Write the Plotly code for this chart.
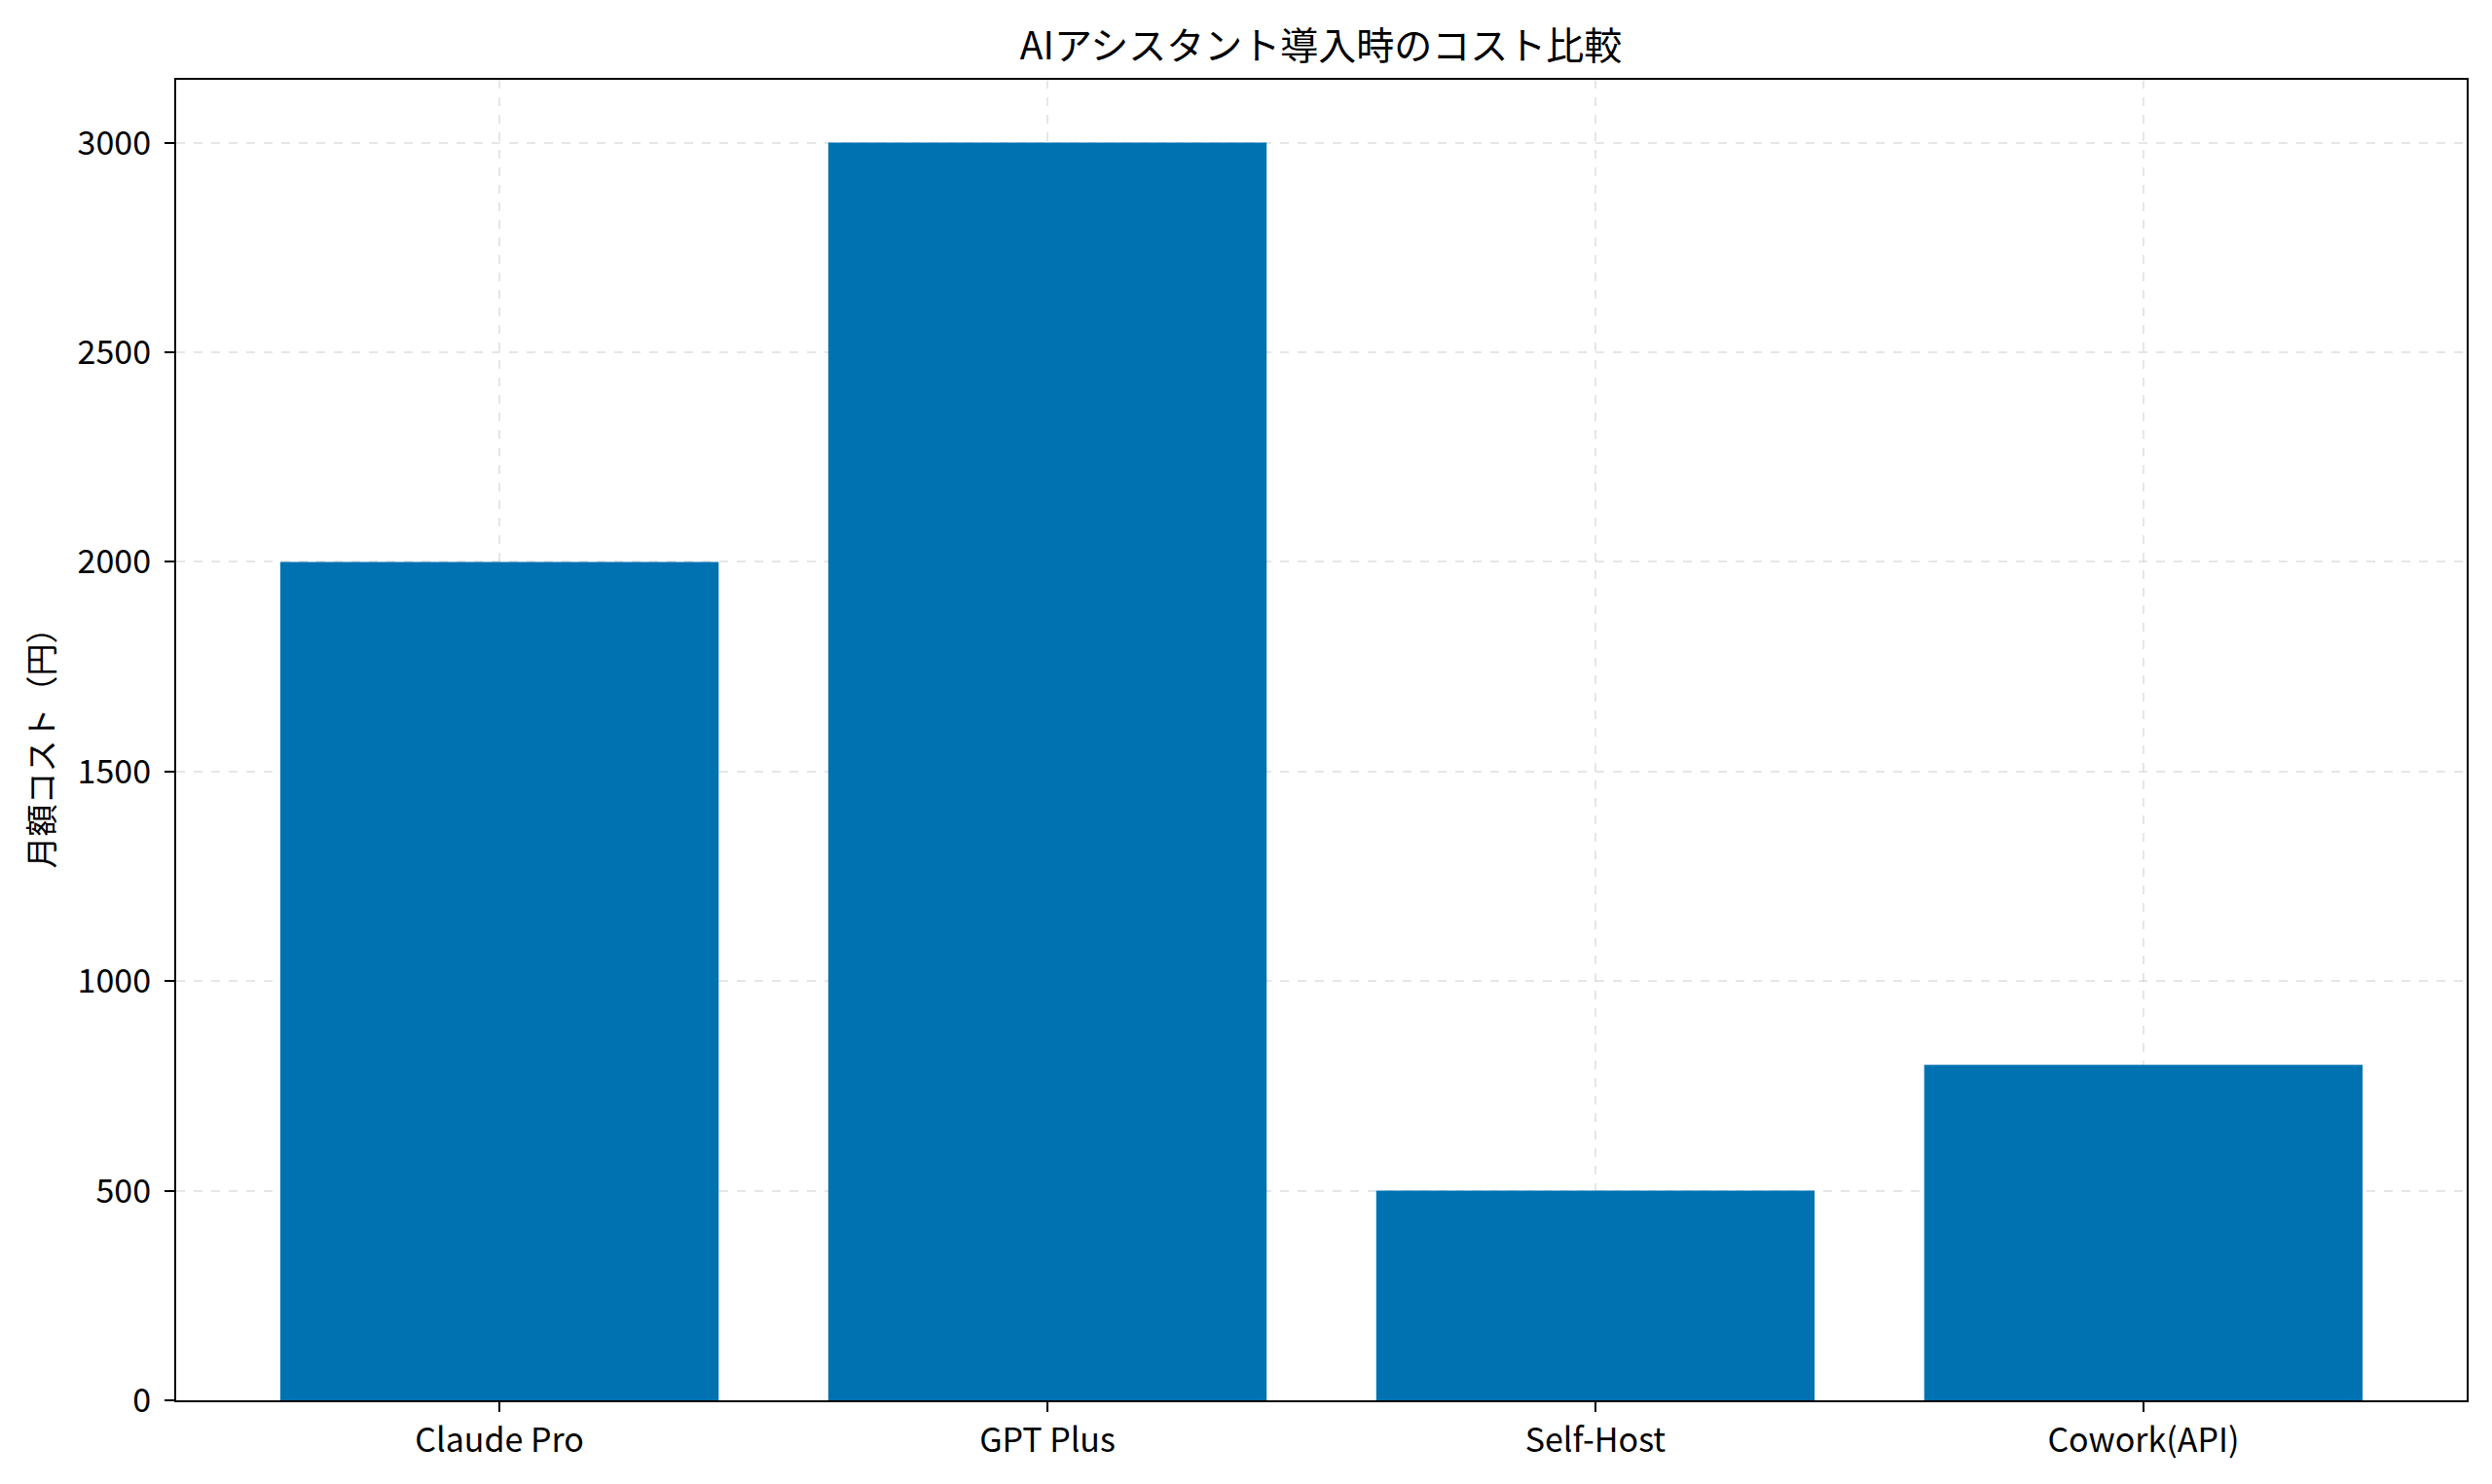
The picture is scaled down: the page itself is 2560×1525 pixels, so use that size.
import plotly.graph_objects as go

plans = ["Claude Pro", "GPT Plus", "Self-Host", "Cowork(API)"]
monthly_cost = [2000, 3000, 500, 800]
y_ticks = [0, 500, 1000, 1500, 2000, 2500, 3000]

font_name = "Noto Sans CJK JP"

fig = go.Figure()
fig.add_trace(go.Bar(
    x=plans,
    y=monthly_cost,
    width=0.8,
    marker=dict(color="#0072B2", line=dict(width=0)),
))

axis_common = dict(
    showline=True, linecolor="black", linewidth=2.2, mirror=True,
    ticks="outside", ticklen=10, tickwidth=2, tickcolor="black",
    showgrid=True, gridcolor="rgba(176,176,176,0.32)", gridwidth=2, griddash="dash",
    layer="above traces",
    tickfont=dict(family=font_name, size=34, color="black"),
    zeroline=False,
)

fig.update_xaxes(range=[-0.59, 3.59], **axis_common)
fig.update_yaxes(range=[0, 3150], tickvals=y_ticks, ticklabelstandoff=7,
                 title=dict(text="月額コスト（円）", font=dict(family=font_name, size=33, color="black"), standoff=14),
                 **axis_common)

# page body has an 8px margin, so the figure is a little smaller than the window
fig.update_layout(
    width=2544, height=1509,
    margin=dict(l=173, r=18, t=74, b=78),
    plot_bgcolor="white", paper_bgcolor="white",
    title=dict(text="AIアシスタント導入時のコスト比較", x=0.5303, xanchor="center", y=0.974, yanchor="middle",
               font=dict(family=font_name, size=39, color="black")),
    showlegend=False,
    bargap=0.2,
)

fig.write_html("out.html")
